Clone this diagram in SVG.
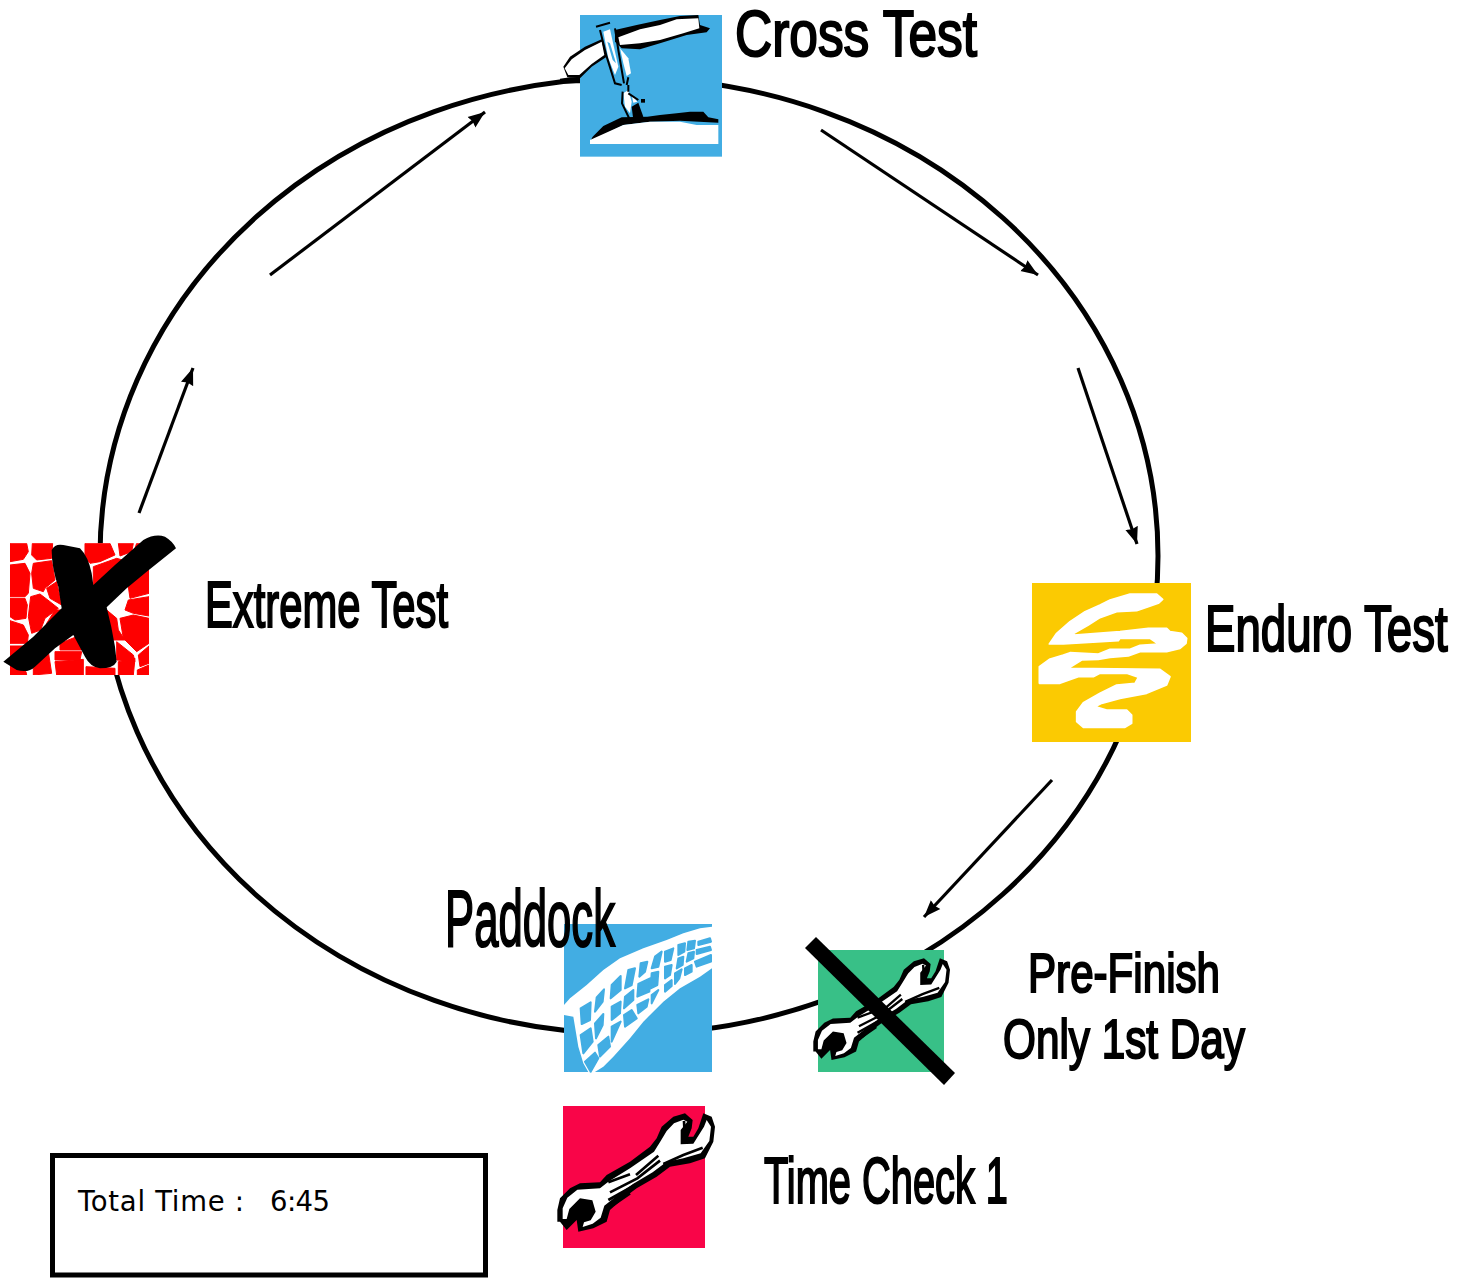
<svg xmlns="http://www.w3.org/2000/svg" width="1465" height="1279" viewBox="0 0 1465 1279">
<style>
.lb{font-family:"Liberation Sans",Arial,sans-serif;fill:#000;stroke:#000;stroke-width:2.1}
.k{fill:#000}.w{fill:#fff}
.h{fill:none;stroke:#000;stroke-width:8}
.e{fill:none;stroke:#000;stroke-width:5}
.a{fill:none;stroke:#000;stroke-width:3.2;marker-end:url(#ah)}
</style>
<defs>
<marker id="ah" markerUnits="userSpaceOnUse" markerWidth="18" markerHeight="14" refX="17" refY="7" orient="auto"><path d="M0,0.5 L17,7 L0,13.5 L1.5,7Z" fill="#000"/></marker>
<clipPath id="exclip"><rect x="30" y="40" width="417" height="395"/></clipPath>
<g id="wrench">
<path class="k" d="M22,380 22,345 30,310 60,280 90,265 150,262 170,240 240,200 300,155 320,130 335,95 370,65 405,55 428,75 425,100 415,125 430,125 445,100 460,55 485,65 495,95 490,140 465,190 420,205 360,215 320,245 260,280 220,310 180,345 170,380 130,400 85,410 80,375 50,405 30,380Z"/>
<path class="w" d="M38,372 38,340 52,308 82,284 150,280 178,258 240,220 312,170 332,138 350,108 372,85 400,74 412,80 392,105 392,148 430,146 462,95 470,75 483,95 478,138 452,175 400,190 350,200 308,232 250,266 208,296 163,332 152,368 128,386 98,396 102,382 122,376 137,350 127,316 90,310 58,342 50,372Z"/>
<path class="h" d="M175,262 L240,238 M180,292 L262,250 L330,197 M175,315 L258,268 M258,240 L325,182 M340,207 L400,180 L458,158 M60,352 L92,328 M402,78 L404,115 M70,360 L105,340 M190,330 L240,295"/>
</g>
</defs>
<rect width="1465" height="1279" fill="#fff"/>
<g id="connectors">
<ellipse class="e" cx="629" cy="556" rx="529" ry="478"/>
<path class="a" d="M270,275 L485,112"/>
<path class="a" d="M821,130 L1038,275"/>
<path class="a" d="M1078,368 L1137,544"/>
<path class="a" d="M1052,780 L924,917"/>
<path class="a" d="M139,513 L193,368"/>
</g>
<g id="node-cross">
<g transform="translate(560,0) scale(.33333)">
<rect x="60" y="45" width="426" height="425" fill="#42ade3"/>
<path class="k" d="M165,90 230,75 300,60 360,48 415,45 420,75 450,85 440,97 380,105 300,130 240,148 185,145 165,125Z"/>
<path class="w" d="M175,112 240,88 300,75 350,58 415,55 418,85 370,100 300,120 240,130 180,135Z"/>
<path class="k" d="M0,236 30,232 60,232 60,250 0,250Z"/>
<path class="k" d="M10,200 30,170 75,140 125,118 140,170 95,200 60,235 22,232Z"/>
<path class="w" d="M14,205 35,178 75,150 125,125 133,165 95,192 58,225 25,225Z"/>
<path class="w" d="M130,95 150,88 175,200 165,225 145,175Z"/>
<path d="M142,125 150,130 168,190 158,180Z" fill="#42ade3"/>
<path class="w" d="M180,145 205,175 213,220 200,228 190,190Z"/>
<path fill="none" stroke="#000" stroke-width="6" d="M120,90 L140,170 L165,250 L185,255 M165,85 L175,150 L192,250 M108,80 L150,68 M205,232 L200,255"/>
<path class="w" d="M190,280 205,270 215,305 210,340 195,320Z"/>
<path class="w" d="M215,285 232,305 220,308Z"/>
<path fill="none" stroke="#000" stroke-width="6" d="M205,255 L205,275 M188,275 L186,310 L210,360 M205,280 L235,300"/>
<path class="k" d="M215,320 235,308 250,350 220,360Z"/>
<rect x="243" y="297" width="12" height="11" class="k"/>
<path class="k" d="M90,425 98,410 130,378 185,352 262,350 300,345 350,340 390,335 430,335 445,352 475,358 475,368 360,362 270,365 190,375 110,415Z"/>
<path class="w" d="M90,432 90,420 190,375 270,365 360,365 410,375 475,375 475,432Z"/>
</g>
</g>
<text class="lb" x="735" y="56" font-size="64" textLength="242" lengthAdjust="spacingAndGlyphs">Cross Test</text>
<g id="node-enduro">
<g transform="translate(1020,570) scale(.33333)">
<rect x="36" y="39" width="477" height="477" fill="#fbca02"/>
<path class="w" stroke="#fff" stroke-width="5" stroke-linejoin="round" d="M88,222 110,190 150,155 195,125 240,105 270,90 330,72 410,72 428,88 415,100 385,110 350,122 290,125 240,143 205,165 162,190 162,195 300,185 385,175 440,175 450,185 485,190 500,205 498,220 480,235 440,245 360,245 325,258 270,262 235,268 185,270 150,292 150,295 420,298 450,320 440,345 380,370 300,385 245,400 225,410 260,420 320,420 335,435 335,460 315,472 190,472 170,455 170,425 190,398 240,370 290,345 345,340 355,322 320,310 240,310 220,320 175,320 120,340 58,340 58,290 88,268 130,255 150,248 235,252 270,238 330,238 360,226 415,222 390,205 300,205 295,212 130,222Z"/>
</g>
</g>
<text class="lb" transform="translate(1205,651) scale(.713,1)" font-size="64" stroke-width="2.6">Enduro Test</text>
<g id="node-extreme">
<g transform="translate(0,530) scale(.33333)">
<rect x="30" y="40" width="417" height="395" fill="#fff"/>
<g clip-path="url(#exclip)">
<path fill="#fe0000" stroke="#fe0000" stroke-width="3" stroke-linejoin="round" d="M30,40 80,40 85,65 70,88 30,95ZM97,40 158,40 155,85 110,90 95,75ZM255,40 330,40 345,75 300,95 270,100 255,85ZM355,40 400,40 395,65 360,78ZM410,40 447,40 447,110 400,70ZM30,105 75,100 90,130 85,190 75,200 30,200ZM100,100 155,92 165,150 135,175 130,185 100,175 95,130ZM280,110 350,85 385,95 390,125 340,180 280,230ZM400,125 447,118 447,190 390,205 385,170ZM30,205 75,205 82,225 78,265 45,270 30,260ZM92,200 120,192 150,215 175,235 135,265 122,300 95,310 85,260ZM140,175 170,155 185,225 150,205ZM30,272 70,285 85,315 82,340 30,340ZM320,240 350,265 355,300 375,330 330,330ZM385,210 447,200 447,258 400,250 375,240ZM360,265 400,255 447,265 447,340 410,365 370,325ZM140,280 165,240 190,240 135,300ZM350,335 400,375 405,395 350,390ZM30,348 75,348 30,390ZM30,400 78,425 80,435 30,435ZM100,415 145,365 155,430 100,435ZM165,395 250,388 250,435 170,435ZM165,365 245,365 240,390 165,390ZM180,340 230,320 245,360 180,360ZM258,410 345,415 345,435 258,435ZM355,395 405,385 400,435 355,435ZM412,420 447,405 447,435 412,435ZM415,375 447,348 447,400 420,410Z"/>
</g>
<path class="k" d="M155,60 Q165,40 190,45 L240,55 Q265,80 275,130 L280,165 L345,105 L430,30 Q465,10 495,20 Q520,35 528,55 L440,125 L380,175 L320,232 Q335,290 345,350 L350,395 Q340,415 300,415 Q270,410 255,380 L220,315 L165,355 L105,410 Q85,430 50,420 L10,395 L100,320 L185,235 L175,170 Q155,115 155,60Z"/>
</g>
</g>
<text class="lb" x="205" y="627" font-size="64" textLength="243" lengthAdjust="spacingAndGlyphs">Extreme Test</text>
<g id="node-prefinish">
<rect x="818" y="950" width="126" height="122" fill="#38c087"/>
<use href="#wrench" transform="translate(813.3,958.3) scale(.289,.2867) translate(-22,-55)"/>
<path class="k" d="M805,948 816,937 955,1073 944,1085Z"/>
</g>
<text class="lb" x="1028" y="992" font-size="56" textLength="192" lengthAdjust="spacingAndGlyphs">Pre-Finish</text>
<text class="lb" x="1003" y="1058" font-size="56" textLength="242" lengthAdjust="spacingAndGlyphs">Only 1st Day</text>
<g id="node-paddock">
<g transform="translate(550,910) scale(.33333)">
<rect x="42" y="42" width="444" height="444" fill="#42ade3"/>
<path class="w" d="M120,495 100,460 85,410 70,320 42,315 42,285 60,265 110,225 160,180 210,145 280,115 350,90 400,70 450,55 486,50 486,175 450,200 390,235 340,275 280,335 240,385 190,440 160,470Z"/>
<path fill="#42ade3" stroke="#42ade3" stroke-width="6" stroke-linejoin="round" d="M92,295 122,277 120,330 95,342ZM140,262 162,238 158,275 135,305ZM185,225 212,198 212,240 182,265ZM235,180 255,175 245,225 225,235ZM272,160 292,155 285,185 268,200ZM315,140 335,125 325,170 305,175ZM345,125 370,115 362,150 345,155ZM385,105 405,100 403,125 385,135ZM415,95 435,92 432,115 412,120ZM445,95 480,85 483,95 445,105ZM135,340 160,312 158,345 138,385ZM185,290 212,275 210,310 185,330ZM225,260 250,240 250,270 222,295ZM265,222 300,205 298,245 262,260ZM305,190 325,185 322,225 302,235ZM345,170 365,165 360,195 345,205ZM385,145 400,140 398,165 380,175ZM415,130 432,125 430,145 410,155ZM440,120 480,110 483,120 440,132ZM92,375 122,355 128,395 100,430ZM145,405 175,380 180,410 150,440ZM185,350 212,335 185,395ZM222,315 245,300 260,325 225,350ZM262,285 295,268 290,290 265,310ZM305,255 325,240 305,280ZM345,225 365,210 365,228 345,245ZM375,190 395,178 388,205 375,222ZM405,175 425,165 425,185 405,195ZM435,155 483,135 483,155 440,170ZM105,455 135,428 145,445 122,485Z"/>
</g>
</g>
<text class="lb" x="445" y="946" font-size="80" textLength="170" lengthAdjust="spacingAndGlyphs">Paddock</text>
<g id="node-timecheck">
<rect x="563" y="1106" width="142" height="142" fill="#f90548"/>
<use href="#wrench" transform="translate(550,1095) scale(.33333)"/>
</g>
<text class="lb" x="764" y="1203" font-size="64" textLength="244" lengthAdjust="spacingAndGlyphs">Time Check 1</text>
<g id="node-total">
<rect x="52.5" y="1155.5" width="433" height="119.5" fill="#fff" stroke="#000" stroke-width="5"/>
<text font-family="'DejaVu Sans',Verdana,sans-serif" font-size="27.5" fill="#000"><tspan x="78" y="1211" textLength="166">Total Time :</tspan><tspan x="270" y="1211" textLength="60">6:45</tspan></text>
</g>
</svg>
